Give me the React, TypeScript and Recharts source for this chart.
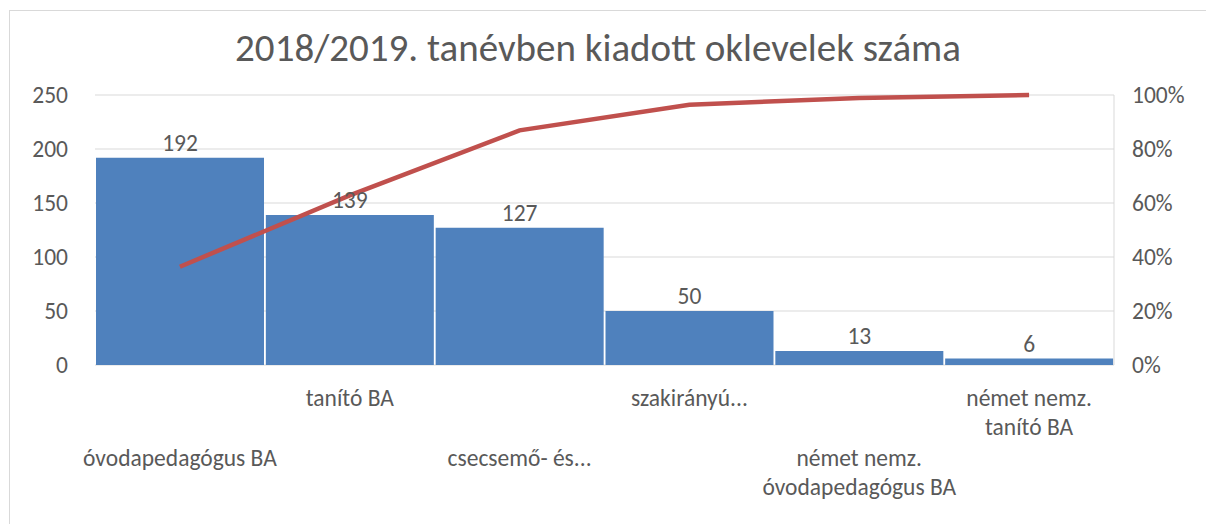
import React from "react";
import {
  ComposedChart,
  Bar,
  Line,
  XAxis,
  YAxis,
  CartesianGrid,
  LabelList
} from "recharts";

const categories = [
  "óvodapedagógus BA",
  "tanító BA",
  "csecsemő- és...",
  "szakirányú...",
  "német nemz.\róvodapedagógus BA",
  "német nemz.\rtanító BA"
];
const counts = [192, 139, 127, 50, 13, 6];
const cumulative = [0.364, 0.628, 0.869, 0.964, 0.989, 1.0];
const leftTicks = [0, 50, 100, 150, 200, 250];
const rightTicks = [0, 0.2, 0.4, 0.6, 0.8, 1];

const data = categories.map((name, i) => ({
  name,
  count: counts[i],
  cum: cumulative[i]
}));

const FONT = "Calibri, Carlito, 'Open Sans', sans-serif";
const TEXT = "#595959";
const SIZE = 23.5;

// Excel staggers the category labels on two rows
const CategoryTick = (props: any) => {
  const { x, y, payload, index } = props;
  const lines = String(payload.value).split("\r");
  const top = index % 2 === 1 ? 25 : 85;
  return (
    <g>
      {lines.map((line: string, i: number) => (
        <text
          key={i}
          x={x}
          y={y + top + i * 29}
          textAnchor="middle"
          dominantBaseline="central"
          fill={TEXT}
          fontSize={SIZE}
          fontFamily={FONT}
        >
          {line}
        </text>
      ))}
    </g>
  );
};

const App: React.FC = () => {
  return (
    <div
      style={{
        position: "absolute",
        left: 0,
        top: 0,
        width: 1206,
        height: 524,
        background: "#fff",
        overflow: "hidden"
      }}
    >
      <div
        style={{
          position: "absolute",
          left: 9,
          top: 10,
          width: 1210,
          height: 530,
          border: "1px solid #d9d9d9"
        }}
      />
      <div
        style={{
          position: "absolute",
          left: 0,
          top: 24,
          width: 1196,
          textAlign: "center",
          fontFamily: FONT,
          fontSize: 39,
          color: TEXT
        }}
      >
        2018/2019. tanévben kiadott oklevelek száma
      </div>
      <ComposedChart
        width={1206}
        height={524}
        data={data}
        margin={{ top: 95, right: 0, left: 0, bottom: 0 }}
        barCategoryGap={1}
      >
        <CartesianGrid vertical={false} stroke="#d9d9d9" yAxisId="left" />
        <XAxis
          dataKey="name"
          height={159}
          axisLine={false}
          tickLine={false}
          interval={0}
          tick={<CategoryTick />}
        />
        <YAxis
          yAxisId="left"
          width={95}
          domain={[0, 250]}
          ticks={leftTicks}
          axisLine={false}
          tickLine={false}
          tickMargin={21}
          tick={{ fill: TEXT, fontSize: SIZE, fontFamily: FONT }}
        />
        <YAxis
          yAxisId="right"
          orientation="right"
          width={92}
          domain={[0, 1]}
          ticks={rightTicks}
          axisLine={{ stroke: "#d9d9d9" }}
          tickLine={false}
          tickMargin={12}
          tickFormatter={(v: number) => `${Math.round(v * 100)}%`}
          tick={{ fill: TEXT, fontSize: SIZE, fontFamily: FONT }}
        />
        <Bar
          yAxisId="left"
          dataKey="count"
          fill="#4F81BD"
          isAnimationActive={false}
        >
          <LabelList
            dataKey="count"
            position="top"
            offset={7}
            fill={TEXT}
            fontSize={SIZE}
            fontFamily={FONT}
          />
        </Bar>
        <Line
          yAxisId="right"
          dataKey="cum"
          stroke="#C0504D"
          strokeWidth={4.5}
          dot={false}
          isAnimationActive={false}
        />
      </ComposedChart>
    </div>
  );
};

export default App;
